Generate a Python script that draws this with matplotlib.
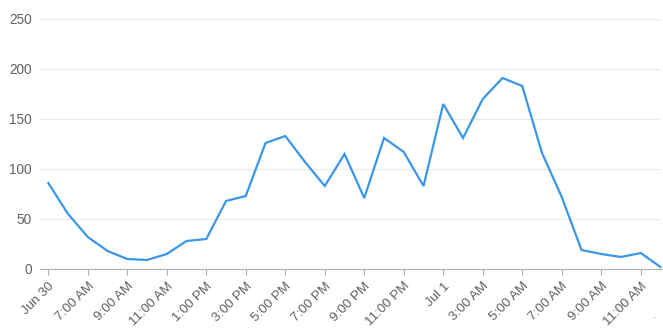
import matplotlib
matplotlib.use("Agg")
import matplotlib.pyplot as plt

values = [86, 55, 32, 18, 10, 9, 15, 28, 30, 68, 73, 126, 133, 107, 83, 115,
          71, 131, 117, 83, 165, 131, 170, 191, 183, 116, 72, 19, 15, 12, 16, 2]
hours = list(range(len(values)))
tick_labels = ["Jun 30", "7:00 AM", "9:00 AM", "11:00 AM", "1:00 PM", "3:00 PM",
               "5:00 PM", "7:00 PM", "9:00 PM", "11:00 PM", "Jul 1", "3:00 AM",
               "5:00 AM", "7:00 AM", "9:00 AM", "11:00 AM"]
tick_pos = list(range(0, 2 * len(tick_labels), 2))
y_ticks = [0, 50, 100, 150, 200, 250]

plt.rcParams['font.family'] = ['Liberation Sans', 'DejaVu Sans']
fig = plt.figure(figsize=(6.63, 3.33), dpi=100)
ax = fig.add_axes([40 / 663, 64 / 333, 620.5 / 663, 250 / 333])

ax.plot(hours, values, color='#3a96e8', linewidth=1.6, solid_joinstyle='miter',
        clip_on=False, zorder=3)

ax.set_xlim(-0.42, 31)
ax.set_ylim(0, 250)
ax.set_yticks(y_ticks)
ax.set_yticklabels([str(v) for v in y_ticks])
ax.set_xticks(tick_pos)
ax.set_xticklabels(tick_labels, rotation=45, ha='right', rotation_mode='anchor')

for v in y_ticks[1:]:
    ax.axhline(v, color='#ebebeb', linewidth=0.8, zorder=1)

for s in ['top', 'right', 'left']:
    ax.spines[s].set_visible(False)
ax.spines['bottom'].set_color('#b0b0b0')
ax.spines['bottom'].set_linewidth(0.8)
ax.spines['bottom'].set_bounds(-0.42, 31.1)

ax.tick_params(axis='y', length=0, pad=6, labelsize=9.8, labelcolor='#606060')
ax.tick_params(axis='x', length=4, width=0.8, color='#b0b0b0', pad=4,
               labelsize=9.6, labelcolor='#606060')

fig.text(653 / 663, 1 - 318 / 333, '.', fontsize=8, color='#606060')

fig.savefig('out.png', dpi=100)
